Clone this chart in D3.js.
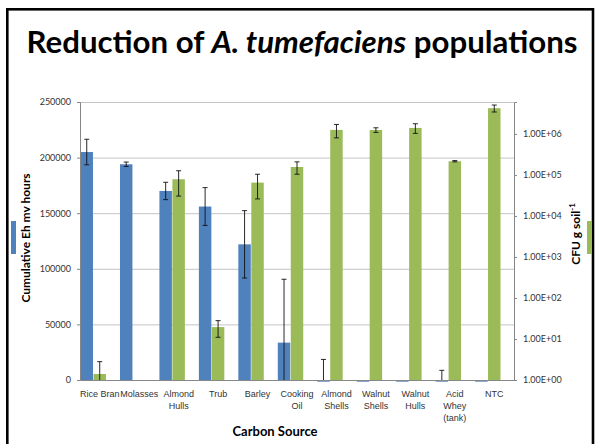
<!DOCTYPE html>
<html>
<head>
<meta charset="utf-8">
<script src="https://cdn.jsdelivr.net/npm/d3@7"></script>
<style>
  body { margin: 0; background: #fff; }
  svg { display: block; font-family: Lato, "Liberation Sans", sans-serif; }
</style>
</head>
<body>
<svg id="chart"></svg>
<script>
// chart data
const categories = ["Rice Bran", "Molasses", "Almond\nHulls", "Trub", "Barley", "Cooking\nOil",
  "Almond\nShells", "Walnut\nShells", "Walnut\nHulls", "Acid\nWhey\n(tank)", "NTC"];
// cumulative Eh mv hours (left axis)
const ehValues = [205000, 194000, 170000, 156000, 122000, 33600, -1500, -1500, -1500, -1500, -1500];
const ehErrors = [11500, 2000, 7800, 17000, 30300, 57000, 20000, 0, 0, 10200, 0];
// CFU g soil-1 (right axis, log)
const cfuValues = [1.4, null, 78500, 19.5, 65000, 156000, 1250000, 1250000, 1400000, 216000, 4240000];
const cfuErrors = [1.4, null, 48000, 8.5, 39000, 52000, 450000, 160000, 370000, 8000, 820000];
const ehTicks = [0, 50000, 100000, 150000, 200000, 250000];
const cfuTicks = [1, 10, 100, 1000, 10000, 100000, 1000000];

class DualAxisBarChart {

  constructor(_config) {
    this.config = {
      parentElement: _config.parentElement,
      containerWidth: 596,
      containerHeight: 444,
      margin: { top: 102, right: 82, bottom: 64, left: 80 },
    };
    this.initVis();
  }

  initVis() {
    let vis = this;
    const c = vis.config;

    vis.svg = d3.select(c.parentElement)
        .attr("width", c.containerWidth)
        .attr("height", c.containerHeight);

    vis.svg.append("rect")
        .attr("width", c.containerWidth)
        .attr("height", c.containerHeight)
        .attr("fill", "#fff");

    // slide frame, runs off the bottom edge
    vis.svg.append("rect")
        .attr("x", 7.3)
        .attr("y", 9.3)
        .attr("width", 585.7)
        .attr("height", 460)
        .attr("fill", "none")
        .attr("stroke", "#000")
        .attr("stroke-width", 2.6);

    vis.innerWidth = c.containerWidth - c.margin.left - c.margin.right;
    vis.innerHeight = c.containerHeight - c.margin.top - c.margin.bottom;

    vis.chart = vis.svg.append("g")
        .attr("transform", `translate(${c.margin.left},${c.margin.top})`);

    vis.chart.append("clipPath")
        .attr("id", "plot-clip")
        .append("rect")
        .attr("width", vis.innerWidth)
        .attr("height", vis.innerHeight);

    vis.grid = vis.chart.append("g");
    vis.bars = vis.chart.append("g");
    vis.errors = vis.chart.append("g").attr("clip-path", "url(#plot-clip)");
    vis.yAxisL = vis.chart.append("g");
    vis.yAxisR = vis.chart.append("g").attr("transform", `translate(${vis.innerWidth},0)`);
    vis.xAxis = vis.chart.append("g").attr("transform", `translate(0,${vis.innerHeight})`);

    // title with italic species name
    let title = vis.svg.append("text")
        .attr("x", 302)
        .attr("y", 53)
        .attr("text-anchor", "middle")
        .style("font-weight", 700)
        .style("font-size", "30px")
        .attr("fill", "#000");
    title.append("tspan").text("Reduction of ");
    title.append("tspan").style("font-style", "italic").text("A. tumefaciens");
    title.append("tspan").text(" populations");
    let len = title.node().getComputedTextLength();
    title.style("font-size", (30 * 551 / len) + "px");

    // axis titles + the little legend swatches
    vis.svg.append("text")
        .attr("transform", "translate(29.5,238) rotate(-90)")
        .attr("text-anchor", "middle")
        .style("font-weight", 700)
        .style("font-size", "12px")
        .text("Cumulative Eh mv hours");
    vis.svg.append("rect")
        .attr("x", 11).attr("y", 221).attr("width", 5).attr("height", 33)
        .attr("fill", "#4f81bd");

    let right = vis.svg.append("text")
        .attr("transform", "translate(580,234) rotate(-90)")
        .attr("text-anchor", "middle")
        .style("font-weight", 700)
        .style("font-size", "12px");
    right.append("tspan").text("CFU g soil");
    right.append("tspan").attr("dy", -5).style("font-size", "8px").text("-1");
    vis.svg.append("rect")
        .attr("x", 587).attr("y", 221).attr("width", 5).attr("height", 33)
        .attr("fill", "#9bbb59");

    vis.svg.append("text")
        .attr("x", 275)
        .attr("y", 436)
        .attr("text-anchor", "middle")
        .style("font-weight", 700)
        .style("font-size", "13px")
        .text("Carbon Source");
  }

  updateVis() {
    let vis = this;

    vis.xScale = d3.scaleBand()
        .domain(categories)
        .range([0, vis.innerWidth]);

    // three slots per category: Eh bar, CFU bar, empty slot
    vis.slot = d3.scaleBand()
        .domain(["eh", "cfu", "empty"])
        .range([0, vis.xScale.bandwidth()])
        .paddingInner(0.04)
        .paddingOuter(0.04);

    vis.yLeft = d3.scaleLinear()
        .domain([0, 250000])
        .range([vis.innerHeight, 0]);

    vis.yRight = d3.scaleLog()
        .domain([1, 6e6])
        .range([vis.innerHeight, 0]);

    // gridlines
    vis.grid.call(d3.axisLeft(vis.yLeft).tickValues(ehTicks.slice(1)).tickSize(-vis.innerWidth).tickFormat(""));
    vis.grid.select(".domain").remove();
    vis.grid.selectAll("line").attr("stroke", "#c4c4c4");

    vis.yAxisL.call(d3.axisLeft(vis.yLeft).tickValues(ehTicks).tickSize(3).tickPadding(6).tickFormat(d3.format("d")));
    vis.yAxisR.call(d3.axisRight(vis.yRight).tickValues(cfuTicks).tickSize(3).tickPadding(6)
        .tickFormat(d => "1.00E+" + String(Math.round(Math.log10(d))).padStart(2, "0")));
    vis.xAxis.call(d3.axisBottom(vis.xScale).tickSize(0).tickFormat(""));

    [vis.yAxisL, vis.yAxisR, vis.xAxis].forEach(ax => {
      ax.select(".domain").attr("stroke", "#868686");
      ax.selectAll("line").attr("stroke", "#868686");
      ax.selectAll("text")
          .attr("fill", "#333")
          .style("font-family", "Lato, sans-serif")
          .style("font-size", "9px");
    });

    // multi-line category labels
    vis.xAxis.selectAll(".cat-label")
        .data(categories)
        .join("text")
        .attr("class", "cat-label")
        .attr("text-anchor", "middle")
        .attr("fill", "#333")
        .style("font-size", "9px")
        .attr("transform", d => `translate(${vis.xScale(d) + vis.xScale.bandwidth() / 2},17)`)
        .each(function(d) {
          d3.select(this).selectAll("tspan")
              .data(d.split("\n"))
              .join("tspan")
              .attr("x", 0)
              .attr("y", (s, i) => i * 12)
              .text(s => s);
        });

    vis.renderVis();
  }

  renderVis() {
    let vis = this;
    const H = vis.innerHeight;
    const bw = vis.slot.bandwidth();

    let eh = categories.map((cat, i) => ({ cat, v: ehValues[i], e: ehErrors[i] }));
    let cfu = categories.map((cat, i) => ({ cat, v: cfuValues[i], e: cfuErrors[i] }))
        .filter(d => d.v != null);

    vis.bars.selectAll(".eh-bar")
        .data(eh)
        .join("rect")
        .attr("class", "eh-bar")
        .attr("x", d => vis.xScale(d.cat) + vis.slot("eh"))
        .attr("y", d => Math.min(vis.yLeft(d.v), vis.yLeft(0)))
        .attr("width", bw)
        .attr("height", d => Math.abs(vis.yLeft(d.v) - vis.yLeft(0)))
        .attr("fill", "#4f81bd");

    vis.bars.selectAll(".cfu-bar")
        .data(cfu)
        .join("rect")
        .attr("class", "cfu-bar")
        .attr("x", d => vis.xScale(d.cat) + vis.slot("cfu"))
        .attr("y", d => vis.yRight(d.v))
        .attr("width", bw)
        .attr("height", d => H - vis.yRight(d.v))
        .attr("fill", "#9bbb59");

    // error bars: {x, top, bottom} in pixels
    let errs = [];
    eh.filter(d => d.e > 0).forEach(d => {
      errs.push({
        x: vis.xScale(d.cat) + vis.slot("eh") + bw / 2,
        top: vis.yLeft(d.v + d.e),
        bottom: vis.yLeft(d.v - d.e),
      });
    });
    cfu.filter(d => d.e > 0).forEach(d => {
      let lo = d.v - d.e;
      errs.push({
        x: vis.xScale(d.cat) + vis.slot("cfu") + bw / 2,
        top: vis.yRight(d.v + d.e),
        bottom: lo > 1 ? vis.yRight(lo) : H + 10,
      });
    });

    let eg = vis.errors.selectAll(".err")
        .data(errs)
        .join("g")
        .attr("class", "err")
        .attr("stroke", "#111")
        .attr("stroke-width", 0.9);
    eg.append("line")
        .attr("x1", d => d.x).attr("x2", d => d.x)
        .attr("y1", d => d.top).attr("y2", d => d.bottom);
    eg.append("line")
        .attr("x1", d => d.x - 2.5).attr("x2", d => d.x + 2.5)
        .attr("y1", d => d.top).attr("y2", d => d.top);
    eg.append("line")
        .attr("x1", d => d.x - 2.5).attr("x2", d => d.x + 2.5)
        .attr("y1", d => d.bottom).attr("y2", d => d.bottom);
  }
}

let chart = new DualAxisBarChart({ parentElement: "#chart" });
chart.updateVis();
</script>
</body>
</html>
